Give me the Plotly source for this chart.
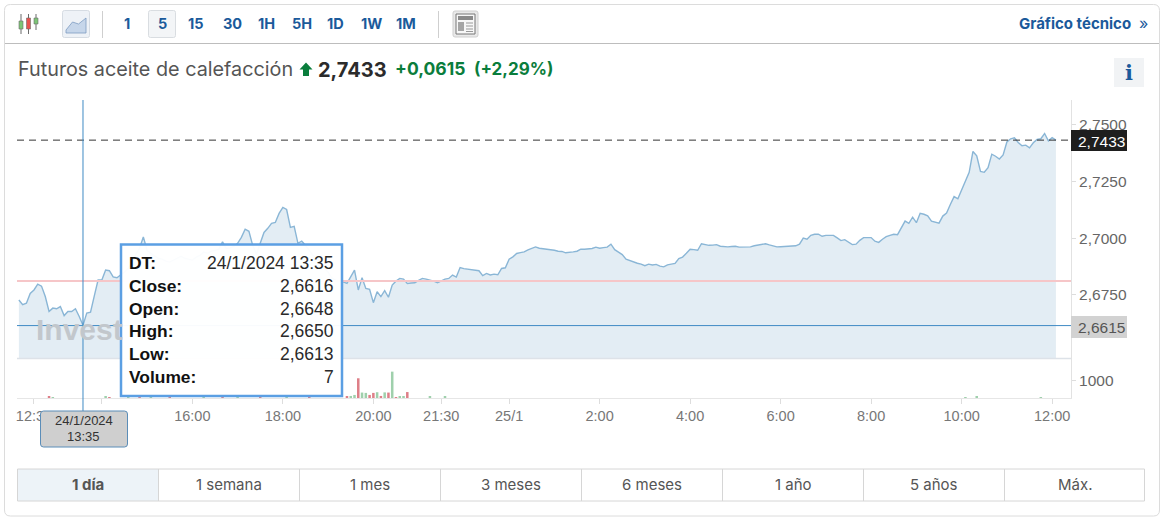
import pandas as pd
import plotly.graph_objects as go

INSTRUMENT = "Futuros aceite de calefacción"
LAST = 2.7433
PREV_CLOSE = 2.6812
HOVER_CLOSE = 2.6615
HOVER_TIME = "2024-01-24 13:35"

close_evening = [
 2.6728,2.6707,2.6714,2.6757,2.6772,2.6798,2.6789,2.6743,2.6677,2.6692,2.6689,2.6699,2.6659,2.6677,2.6677,2.6689,2.6655,2.6616,
 2.6670,2.6674,2.6746,2.6816,2.6816,2.6860,2.6857,2.6830,2.6826,
 2.6838,2.6851,2.6868,2.6895,2.6930,2.6956,2.7006,2.6947,
 2.6934,2.6921,2.6912,2.6908,2.6899,2.6895,2.6904,2.6912,2.6921,2.6912,2.6908,2.6904,2.6917,2.6925,2.6939,2.6934,2.6943,2.6947,2.6951,
 2.6984,2.6955,2.6958,2.6964,2.6978,2.7004,2.7040,2.7031,2.6969,2.6930,2.6978,2.7026,2.7044,2.7066,2.7070,2.7110,2.7136,2.7127,2.7048,2.7053,2.6978,2.6987,2.6969,
 2.6947,2.6925,2.6912,2.6895,2.6868,2.6851,2.6825,2.6815,2.6810,
 2.6808,2.6801,2.6833,2.6860,2.6772,2.6826,2.6779,2.6775,2.6716,2.6764,2.6743,2.6769,2.6740,2.6794,2.6811,2.6823,2.6820,2.6801,2.6803,2.6804,
 2.6814,2.6823,2.6820,2.6816,2.6811,2.6804,2.6811,2.6820,2.6823,2.6838,2.6829,2.6871,
]
close_overnight = [
 2.6866,2.6863,2.6861,2.6858,2.6857,2.6835,2.6845,2.6838,2.6842,2.6839,2.6867,2.6870,
 2.6908,2.6918,2.6933,2.6937,2.6940,2.6949,2.6954,2.6962,2.6956,2.6954,2.6953,2.6952,2.6947,2.6943,2.6942,2.6936,2.6937,2.6940,2.6943,2.6952,2.6952,2.6953,2.6955,2.6961,
 2.6956,2.6959,2.6961,2.6974,2.6950,2.6939,2.6928,2.6908,2.6901,2.6895,2.6890,2.6886,2.6879,2.6886,2.6882,2.6885,2.6877,2.6874,2.6883,2.6886,2.6889,2.6911,2.6917,2.6934,
 2.6952,2.6950,2.6947,2.6976,2.6972,2.6969,2.6970,2.6972,2.6965,2.6962,2.6962,2.6964,2.6965,2.6961,2.6961,2.6962,2.6962,2.6967,2.6969,2.6972,2.6976,2.6971,2.6967,2.6962,
 2.6963,2.6964,2.6964,2.6965,2.6967,2.6974,2.7001,2.6996,2.7013,2.7018,2.7018,2.7009,2.7013,2.7013,2.7013,2.7002,2.6990,2.6994,2.6982,2.6972,2.6974,2.6991,2.7003,2.7004,
 2.7003,2.6987,2.6982,2.6996,2.7007,2.7013,2.7018,2.7016,2.7048,2.7076,2.7066,2.7093,2.7069,2.7110,2.7106,2.7099,2.7076,2.7072,2.7067,2.7098,2.7111,2.7149,2.7184,2.7174,
 2.7211,2.7250,2.7291,2.7383,2.7364,2.7295,2.7291,2.7311,2.7371,2.7362,2.7350,2.7368,2.7425,2.7439,2.7443,2.7423,2.7408,2.7411,2.7399,2.7421,2.7436,2.7439,2.7462,2.7430,
 2.7444,2.7433,
]

vol_up_times = ["2024-01-24 12:55","2024-01-24 14:05","2024-01-24 14:35","2024-01-24 15:05","2024-01-24 16:15","2024-01-24 17:00","2024-01-24 18:05",
                "2024-01-24 19:30","2024-01-24 19:35","2024-01-24 19:45","2024-01-24 19:50","2024-01-24 20:05","2024-01-24 20:15","2024-01-24 20:25","2024-01-24 20:35","2024-01-24 20:40",
                "2024-01-24 21:15","2024-01-24 21:35","2024-01-25 10:05","2024-01-25 10:20","2024-01-25 11:45"]
vol_up_values = [40,60,50,60,50,60,50, 120,180,320,300,340,330,1550,110,60, 70,110,40,60,50]
vol_down_times = ["2024-01-24 12:50","2024-01-24 14:10","2024-01-24 14:50","2024-01-24 15:30","2024-01-24 16:40","2024-01-24 17:30","2024-01-24 18:35",
                  "2024-01-24 19:25","2024-01-24 19:40","2024-01-24 19:55","2024-01-24 20:00","2024-01-24 20:10","2024-01-24 20:20","2024-01-24 20:30","2024-01-24 20:45"]
vol_down_values = [60,40,50,60,50,50,60, 60,1160,180,300,120,320,50,350]

x_tick_vals = ["2024-01-24 12:30","2024-01-24 14:00","2024-01-24 16:00","2024-01-24 18:00","2024-01-24 20:00","2024-01-24 21:30",
               "2024-01-25 00:00","2024-01-25 02:00","2024-01-25 04:00","2024-01-25 06:00","2024-01-25 08:00","2024-01-25 10:00","2024-01-25 12:00"]
x_tick_text = ["12:30","14:00","16:00","18:00","20:00","21:30","25/1","2:00","4:00","6:00","8:00","10:00","12:00"]
price_ticks = [2.675, 2.70, 2.725, 2.75]
volume_ticks = [1000]
intervals = ["1","5","15","30","1H","5H","1D","1W","1M"]
ranges = ["1 día","1 semana","1 mes","3 meses","6 meses","1 año","5 años","Máx."]
tooltip_labels = ["DT:","Close:","Open:","High:","Low:","Volume:"]
tooltip_values = ["24/1/2024 13:35","2,6616","2,6648","2,6650","2,6613","7"]

W, H = 1164, 522
px = lambda x: x / W
py = lambda y: 1 - y / H
SANS = "Liberation Sans, Arial, sans-serif"
UI = "Inter, Arial, sans-serif"
BLUE = "#1b5a9b"
GREEN = "#0a7d3c"
CROSS = "#3f8ac4"

times_a = pd.date_range("2024-01-24 12:10", periods=len(close_evening), freq="5min")
times_b = pd.date_range("2024-01-24 23:00", periods=len(close_overnight), freq="5min")
times = list(times_a) + list(times_b)
closes = close_evening + close_overnight

fig = go.Figure()
fig.add_trace(go.Scatter(x=times, y=closes, mode="lines", xaxis="x", yaxis="y",
                         line=dict(color="#8ab6d6", width=1.4), fill="tozeroy", fillcolor="#e3edf4"))
fig.add_trace(go.Bar(x=pd.to_datetime(vol_up_times), y=vol_up_values, xaxis="x", yaxis="y2",
                     marker=dict(color="#9fd0ac", line_width=0), width=200000))
fig.add_trace(go.Bar(x=pd.to_datetime(vol_down_times), y=vol_down_values, xaxis="x", yaxis="y2",
                     marker=dict(color="#de7f88", line_width=0), width=200000))

shapes, notes = [], []

def rect(x0, y0, x1, y1, fill="rgba(0,0,0,0)", line="rgba(0,0,0,0)", lw=1, r=0):
    if r:
        p = (f"M {px(x0+r)} {py(y0)} L {px(x1-r)} {py(y0)} Q {px(x1)} {py(y0)} {px(x1)} {py(y0+r)} "
             f"L {px(x1)} {py(y1-r)} Q {px(x1)} {py(y1)} {px(x1-r)} {py(y1)} L {px(x0+r)} {py(y1)} "
             f"Q {px(x0)} {py(y1)} {px(x0)} {py(y1-r)} L {px(x0)} {py(y0+r)} Q {px(x0)} {py(y0)} {px(x0+r)} {py(y0)} Z")
        shapes.append(dict(type="path", xref="paper", yref="paper", path=p, fillcolor=fill,
                           line=dict(color=line, width=lw), layer="above"))
    else:
        shapes.append(dict(type="rect", xref="paper", yref="paper", x0=px(x0), x1=px(x1), y0=py(y0), y1=py(y1),
                           fillcolor=fill, line=dict(color=line, width=lw), layer="above"))

def seg(x0, y0, x1, y1, color, lw=1, dash="solid"):
    shapes.append(dict(type="line", xref="paper", yref="paper", x0=px(x0), x1=px(x1), y0=py(y0), y1=py(y1),
                       line=dict(color=color, width=lw, dash=dash), layer="above"))

def poly(pts, fill, line="rgba(0,0,0,0)", lw=0):
    p = "M " + " L ".join(f"{px(a)} {py(b)}" for a, b in pts) + " Z"
    shapes.append(dict(type="path", xref="paper", yref="paper", path=p, fillcolor=fill,
                       line=dict(color=line, width=lw), layer="above"))

def text(x, y, s, size=14, color="#333", font=UI, anchor="left", bold=False):
    notes.append(dict(xref="paper", yref="paper", x=px(x), y=py(y), text=f"<b>{s}</b>" if bold else s,
                      showarrow=False, xanchor=anchor, yanchor="middle", borderpad=0,
                      font=dict(size=size, color=color, family=font)))

# card and toolbar
rect(4.5, 4.5, 1159.5, 516, fill="rgba(0,0,0,0)", line="#dcdcdc", lw=1, r=6)
seg(5, 43.5, 1159, 43.5, "#bdbdbd", 1)

# candle icon
for cx, y0, y1, by0, by1, col in [(21, 14, 34, 21, 29, "#7cc576"), (28.5, 14, 34, 18, 29, "#e8524f"), (36, 14, 30, 18, 24, "#7cc576")]:
    seg(cx, y0, cx, y1, "#6b6b6b", 1)
    rect(cx - 2, by0, cx + 2, by1, fill=col, line="#6b6b6b", lw=0.6)

# area button
rect(62.5, 10.5, 89.5, 37.5, fill="#eef2f7", line="#d6dce3", lw=1, r=2)
poly([(66, 30), (72.5, 22), (78.5, 24), (86, 18), (86, 33), (66, 33)], "#c6d6ea", "#7d9cc2", 0.8)
seg(102.5, 11, 102.5, 38, "#cfcfcf", 1)

# intervals
rect(148.5, 10.5, 175.5, 37.5, fill="#f3f5f7", line="#d9dde1", lw=1, r=2)
for cx, s in zip([127, 162, 196, 232, 266, 302, 336, 372, 406], intervals):
    text(cx, 24, s, size=14.5, color=BLUE, anchor="center", bold=True)
seg(438.5, 11, 438.5, 38, "#cfcfcf", 1)

# news icon
rect(453, 11, 478, 37, fill="#e9e9e9", line="#cfcfcf", lw=1, r=2)
rect(456, 14, 475, 34, fill="#f7f7f7", line="#777777", lw=1)
rect(458, 16, 473, 20, fill="#8a8a8a")
rect(458, 22, 464, 31, fill="#a5a5a5")
for yy in (23, 26, 29, 31.5):
    seg(466, yy, 473, yy, "#999999", 1)

text(1132, 24, "Gráfico técnico", size=15, color=BLUE, anchor="right", bold=True)
text(1143.5, 22.5, "»", size=16, color=BLUE, anchor="center")

# title row
text(16.5, 69, INSTRUMENT, size=19.8, color="#555555")
poly([(306, 62.5), (312.5, 69.5), (309, 69.5), (309, 76), (303, 76), (303, 69.5), (299.5, 69.5)], GREEN)
text(317, 70, "2,7433", size=20, color="#2b2b2b", bold=True)
text(394, 68.5, "+0,0615", size=17.5, color=GREEN, bold=True)
text(473, 68.5, "(+2,29%)", size=17, color=GREEN, bold=True)
rect(1114, 58, 1144, 87, fill="#f1f3f5")
text(1129, 73, "i", size=21, color=BLUE, font="DejaVu Serif", anchor="center", bold=True)

# panel separator and reference lines
seg(17, 358.5, 1071, 358.5, "#dde2e8", 1.5)
shapes.append(dict(type="line", xref="paper", yref="y", x0=px(17), x1=px(1071), y0=PREV_CLOSE, y1=PREV_CLOSE,
                   line=dict(color="#f6c6c8", width=2), layer="above"))
shapes.append(dict(type="line", xref="paper", yref="y", x0=px(17), x1=px(1071), y0=LAST, y1=LAST,
                   line=dict(color="#333333", width=1, dash="7px,5px"), layer="above"))
shapes.append(dict(type="line", xref="paper", yref="y", x0=px(17), x1=px(1071), y0=HOVER_CLOSE, y1=HOVER_CLOSE,
                   line=dict(color=CROSS, width=1), layer="above"))
shapes.append(dict(type="line", xref="x", yref="paper", x0=HOVER_TIME, x1=HOVER_TIME, y0=py(411), y1=py(100),
                   line=dict(color=CROSS, width=1), layer="above"))

# price tags
rect(1071, 130, 1127, 151, fill="#1e1e1e")
text(1077, 141, "2,7433", size=15.5, color="#ffffff", font=SANS)
rect(1071, 316, 1127, 338, fill="#d2d2d2")
text(1077, 327, "2,6615", size=15.5, color="#555555", font=SANS)

# watermark
text(35, 329, "Invest", size=30, color="#c2c7cc", font=SANS, bold=True)

# tooltip
rect(121, 244.5, 342, 396, fill="rgba(255,255,255,0.96)", line="#5b9fe3", lw=2.5)
for yy, lab, val in zip([262.5, 285.5, 308.5, 331, 354, 376.5], tooltip_labels, tooltip_values):
    text(127.5, yy, lab, size=17.4, color="#111111", font=SANS, bold=True)
    text(334.5, yy, val, size=17.5, color="#2a2a2a", font=SANS, anchor="right")

# date tag
rect(40.5, 411, 127.5, 447, fill="#cfcfcf", line="#5b8db8", lw=1, r=3)
text(84, 420.5, "24/1/2024", size=13, color="#333333", font=SANS, anchor="center")
text(84, 436, "13:35", size=13, color="#333333", font=SANS, anchor="center")

# range tabs
edges = [17, 158, 299, 440, 581, 722, 863, 1004, 1145]
rect(17.5, 469, 158, 501, fill="#edf3f8")
rect(17.5, 469, 1144.5, 501, line="#d6d6d6", lw=1)
for i, s in enumerate(ranges):
    if i:
        seg(edges[i] + .5, 469, edges[i] + .5, 501, "#d6d6d6", 1)
    text((edges[i] + edges[i + 1]) / 2 + 0.5, 484.5, s, size=15, color="#555555", anchor="center", bold=(i == 0))

fig.update_layout(
    width=W, height=H, margin=dict(l=0, r=0, t=0, b=0), autosize=False,
    paper_bgcolor="#ffffff", plot_bgcolor="#ffffff", showlegend=False, hovermode=False,
    separators=",.", barmode="overlay", shapes=shapes, annotations=notes,
    xaxis=dict(type="date", domain=[px(17), px(1071)], anchor="y2",
               range=["2024-01-24 12:07:30", "2024-01-25 12:25:00"],
               rangebreaks=[dict(bounds=["2024-01-24 22:00", "2024-01-24 23:00"])],
               tickmode="array", tickvals=pd.to_datetime(x_tick_vals), ticktext=x_tick_text,
               ticks="outside", ticklen=5, tickcolor="#dddddd", showgrid=False, zeroline=False,
               showline=True, linecolor="#e6e6e6", linewidth=1,
               tickfont=dict(family=SANS, size=14.5, color="#777777")),
    yaxis=dict(domain=[py(358), py(100)], anchor="x", side="right", range=[2.6472, 2.7610],
               tickmode="array", tickvals=price_ticks, tickformat=".4f",
               ticks="outside", ticklen=4, tickcolor="#dddddd", showgrid=False, zeroline=False,
               showline=True, linecolor="#e2e2e2", linewidth=1,
               tickfont=dict(family=SANS, size=15.5, color="#666666")),
    yaxis2=dict(domain=[py(398), py(358)], anchor="x", side="right", range=[0, 2352],
                tickmode="array", tickvals=volume_ticks, tickformat="d",
                ticks="outside", ticklen=4, tickcolor="#dddddd", showgrid=False, zeroline=False,
                showline=True, linecolor="#e2e2e2", linewidth=1,
                tickfont=dict(family=SANS, size=15.5, color="#666666")),
)

fig.write_html("out.html", config=dict(displayModeBar=False, responsive=False),
               post_script="document.body.style.margin='0';")
